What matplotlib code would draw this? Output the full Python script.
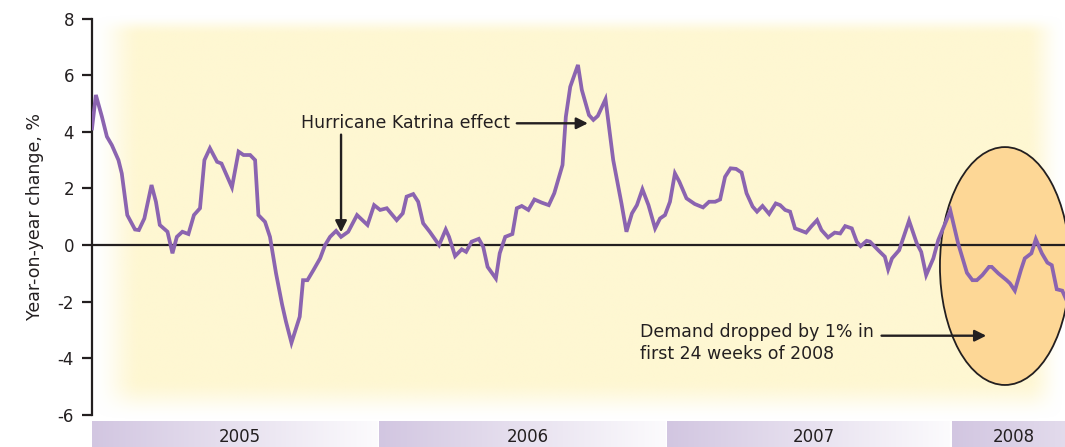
import matplotlib
matplotlib.use("Agg")
import matplotlib.pyplot as plt
import numpy as np
from matplotlib.colors import LinearSegmentedColormap
from matplotlib.patches import Ellipse

plt.rcParams["font.family"] = ["DejaVu Sans"]
plt.rcParams["axes.unicode_minus"] = False

# weekly demand change, x in weeks since the start of 2005
weeks = [
    0.0, 0.7, 1.8, 2.7, 3.6, 4.8, 5.4, 6.4, 7.8, 8.5, 9.5, 10.8, 11.6, 12.3,
    13.7, 14.6, 15.4, 16.4, 17.5, 18.5, 19.6, 20.4, 21.4, 22.7, 23.5, 24.3,
    25.4, 26.6, 27.5, 28.7, 29.6, 30.2, 31.4, 32.3, 33.4, 34.5, 35.2, 36.2,
    37.7, 38.3, 39.1, 40.2, 41.4, 42.3, 43.2, 44.3, 45.2, 46.5, 48.1, 50.0,
    51.2, 52.3, 53.5, 55.3, 56.4, 57.1, 58.3, 59.2, 60.1, 61.3, 63.0, 64.2,
    64.8, 65.9, 67.1, 67.9, 68.9, 70.2, 71.0, 71.8, 73.3, 74.0, 75.0, 76.3,
    77.1, 78.0, 79.2, 80.3, 81.6, 82.9, 83.9, 85.4, 86.0, 86.8, 88.2, 88.9,
    90.2, 91.0, 91.8, 93.2, 94.6, 96.1, 97.0, 98.0, 98.9, 99.9, 101.0, 102.2,
    103.1, 104.0, 104.9, 105.8, 106.6, 107.9, 109.4, 110.9, 112.0, 113.1,
    114.0, 114.9, 115.9, 116.9, 117.9, 118.8, 119.9, 120.7, 121.7, 122.9,
    124.1, 124.9, 125.8, 126.7, 127.6, 129.6, 130.6, 131.6, 132.4, 133.6,
    134.8, 135.8, 136.7, 137.9, 138.8, 139.5, 140.6, 141.2, 142.7, 143.9,
    144.5, 145.2, 146.5, 148.3, 149.7, 150.5, 151.4, 152.7, 153.6, 154.6,
    155.8, 157.2, 158.8, 159.8, 160.6, 161.6, 162.8, 163.3, 164.5, 166.0,
    166.6, 167.5, 168.6, 169.3, 170.5, 171.3, 172.4, 173.4, 174.2, 175.1,
    176.1, 177.0,
]
change = [
    4.12, 5.30, 4.53, 3.83, 3.53, 3.00, 2.53, 1.06, 0.55, 0.53, 0.94, 2.12,
    1.53, 0.71, 0.47, -0.29, 0.29, 0.47, 0.39, 1.06, 1.30, 3.00, 3.42, 2.94,
    2.88, 2.53, 2.04, 3.30, 3.18, 3.18, 3.00, 1.06, 0.82, 0.29, -1.00, -2.10,
    -2.70, -3.45, -2.53, -1.24, -1.24, -0.88, -0.47, 0.00, 0.29, 0.50, 0.29,
    0.47, 1.06, 0.71, 1.41, 1.24, 1.30, 0.88, 1.12, 1.71, 1.80, 1.53, 0.77,
    0.47, 0.00, 0.55, 0.29, -0.39, -0.15, -0.24, 0.12, 0.22, -0.06, -0.77,
    -1.18, -0.29, 0.29, 0.39, 1.30, 1.38, 1.24, 1.61, 1.50, 1.41, 1.83, 2.83,
    4.53, 5.59, 6.36, 5.48, 4.59, 4.42, 4.56, 5.15, 3.00, 1.47, 0.47, 1.12,
    1.41, 1.97, 1.41, 0.59, 0.94, 1.06, 1.53, 2.53, 2.24, 1.65, 1.45, 1.33,
    1.53, 1.53, 1.61, 2.41, 2.71, 2.69, 2.56, 1.83, 1.36, 1.18, 1.38, 1.10,
    1.47, 1.41, 1.24, 1.18, 0.59, 0.44, 0.67, 0.88, 0.53, 0.27, 0.44, 0.41,
    0.67, 0.59, 0.12, -0.04, 0.15, 0.12, -0.18, -0.41, -0.86, -0.47, -0.18,
    0.86, 0.06, -0.24, -1.06, -0.47, 0.18, 0.65, 1.21, 0.06, -0.98, -1.24,
    -1.24, -1.06, -0.77, -0.77, -1.00, -1.24, -1.35, -1.61, -0.88, -0.47,
    -0.29, 0.21, -0.29, -0.62, -0.71, -1.56, -1.61, -2.00,
]

years = ["2005", "2006", "2007", "2008"]
year_start = [0.0, 52.1, 104.4, 156.1]
year_len = 52.2

x_max = 176.6
ink = "#231f20"
purple = "#8b64b0"

fig = plt.figure(figsize=(10.65, 4.47), dpi=100)

# soft yellow panel behind the plot (image row 0 is the top edge)
bg = fig.add_axes([0.0864, 0.058, 0.9136, 0.91], zorder=0)
ny, nx = 200, 500
gx = np.linspace(0, 1, nx)
gy = np.linspace(0, 1, ny)


def ramp(t, w):
    t = np.clip(t / w, 0, 1)
    return t * t * (3 - 2 * t)


mask = np.outer(ramp(gy, 0.05) * ramp(1 - gy, 0.10),
                ramp(gx, 0.05) * ramp(1 - gx, 0.04))
panel = np.zeros((ny, nx, 4))
panel[..., :3] = np.array([254, 247, 210]) / 255
panel[..., 3] = mask
bg.imshow(panel, extent=[0, 1, 0, 1], aspect="auto", interpolation="bilinear")
bg.set_xlim(0, 1)
bg.set_ylim(0, 1)
bg.axis("off")

ax = fig.add_axes([0.0864, 0.0716, 0.9136, 0.887], zorder=1)
ax.patch.set_alpha(0)

ax.add_patch(Ellipse((165.7, -0.74), 23.6, 8.4, facecolor="#fdd796",
                     edgecolor=ink, lw=1.3, zorder=1))
ax.axhline(0, color=ink, lw=1.6, zorder=2)
ax.plot(weeks, change, color=purple, lw=2.7, solid_joinstyle="miter",
        zorder=3)

ax.set_xlim(0, x_max)
ax.set_ylim(-6, 8)
ax.set_yticks(np.arange(-6, 9, 2))
ax.set_xticks([])
for side in ["top", "right", "bottom"]:
    ax.spines[side].set_visible(False)
ax.spines["left"].set_color(ink)
ax.spines["left"].set_linewidth(1.6)
ax.tick_params(axis="y", length=7, width=1.6, color=ink, labelsize=12,
               labelcolor=ink, pad=6)
ax.set_ylabel("Year-on-year change, %", fontsize=12.5, color=ink, labelpad=10)

arrow = dict(arrowstyle="-|>", color=ink, lw=1.7, mutation_scale=17,
             shrinkA=0, shrinkB=0)
ax.text(38.0, 4.3, "Hurricane Katrina effect", fontsize=12.5, color=ink,
        va="center", ha="left")
ax.annotate("", xy=(90.0, 4.3), xytext=(77.1, 4.3), arrowprops=arrow)
ax.annotate("", xy=(45.2, 0.45), xytext=(45.2, 3.9), arrowprops=arrow)

ax.text(99.5, -3.45, "Demand dropped by 1% in\nfirst 24 weeks of 2008",
        fontsize=12.5, color=ink, va="center", ha="left", linespacing=1.3)
ax.annotate("", xy=(162.3, -3.2), xytext=(143.3, -3.2), arrowprops=arrow)

# year bands along the bottom
bars = fig.add_axes([0.0864, 0.0, 0.9136, 0.0588], zorder=1)
band_cmap = LinearSegmentedColormap.from_list("band", ["#d2c6e1", "#fcfbfd"])
grad = np.linspace(0, 1, 256).reshape(1, -1)
for i, (label, start) in enumerate(zip(years, year_start)):
    end = year_start[i + 1] - 0.35 if i + 1 < len(year_start) else start + year_len
    bars.imshow(grad, cmap=band_cmap, extent=[start, end, 0, 1],
                aspect="auto", interpolation="bilinear")
    mid = (start + min(end, x_max)) / 2 + 1.0
    bars.text(mid, 0.38, label, fontsize=12, color=ink, ha="center",
              va="center")
bars.set_xlim(0, x_max)
bars.set_ylim(0, 1)
bars.axis("off")

fig.savefig("out.png", dpi=100, facecolor="white")
